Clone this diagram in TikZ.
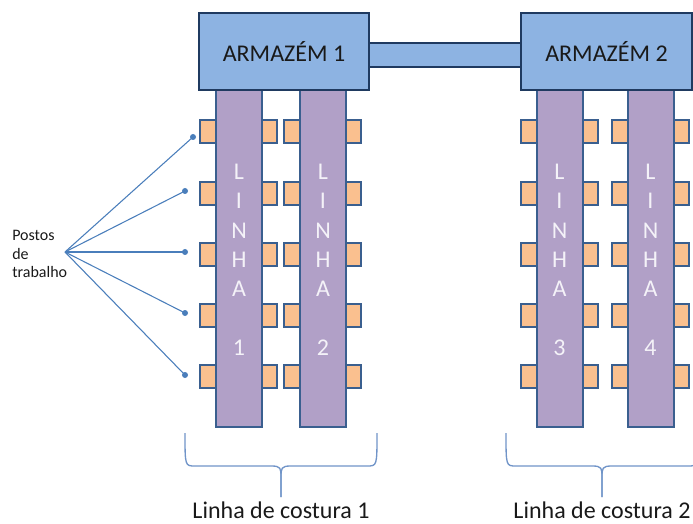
\documentclass[tikz,border=0pt]{standalone}
\usepackage{fontspec}
\setmainfont{Carlito}
\definecolor{armfill}{HTML}{8DB3E2}
\definecolor{armdraw}{HTML}{1F3A60}
\definecolor{linfill}{HTML}{B1A0C7}
\definecolor{boxdraw}{HTML}{3A5F8F}
\definecolor{postfill}{HTML}{FAC08F}
\definecolor{conn}{HTML}{4A7EBB}
\definecolor{bracecol}{HTML}{7094C8}
\definecolor{lettercol}{HTML}{F4F2F8}
\begin{document}
\begin{tikzpicture}[x=0.75pt,y=-0.75pt,
  armazem/.style={draw=armdraw,line width=1.9pt,fill=armfill,minimum width=170*0.75pt,minimum height=77*0.75pt,inner sep=0pt,font=\fontsize{18}{20}\selectfont,text=black!90},
  ponte/.style={draw=armdraw,line width=1.9pt,fill=armfill,minimum width=160*0.75pt,minimum height=24*0.75pt,inner sep=0pt},
  linha/.style={draw=boxdraw,line width=1.5pt,fill=linfill,minimum width=46*0.75pt,minimum height=337*0.75pt,inner sep=0pt},
  posto/.style={draw=boxdraw,line width=1.5pt,fill=postfill,minimum width=22*0.75pt,minimum height=23*0.75pt,inner sep=0pt},
  letra/.style={text=lettercol,font=\fontsize{18}{20}\selectfont,inner sep=0pt},
  ponto/.style={circle,fill=conn,minimum size=6*0.75pt,inner sep=0pt},
  ligacao/.style={draw=conn,line width=0.8pt},
  chave/.style={draw=bracecol,line width=1pt},
  rotulo/.style={font=\fontsize{18}{20}\selectfont,text=black!90,inner sep=0pt}]
\useasboundingbox (0,0) rectangle (693,524);

% bar joining the two warehouses
\node[ponte] (ponte) at (445,55) {};

% work stations on both sides of each line (drawn first, under the lines)
\foreach \cx/\n in {239/1,323/2,559.5/3,650.5/4}{
  \foreach \cy/\r in {131.5/1,193.5/2,254.5/3,315.5/4,376.5/5}{
    \node[posto] (pe\n\r) at (\cx-28,\cy) {};
    \node[posto] (pd\n\r) at (\cx+27,\cy) {};
  }
}

% production lines
\foreach \cx/\n in {239/1,323/2,559.5/3,650.5/4}{
  \node[linha] (linha\n) at (\cx,258.5) {};
  \foreach \l [count=\i from 0] in {L,I,N,H,A}{
    \node[letra] (l\n\i) at (\cx,172+29.25*\i) {\l};
  }
  \node[letra] (num\n) at (\cx,348) {\n};
}

% warehouses
\node[armazem] (arm1) at (284,51.5) {ARMAZÉM 1};
\node[armazem,minimum width=171*0.75pt] (arm2) at (606.5,51.5) {ARMAZÉM 2};

% label for the work stations and its pointers
\node[font=\fontsize{12}{13.9}\selectfont,align=left,anchor=west,inner sep=0pt,text=black!90] (postos) at (12,254) {Postos\\de\\trabalho};
\coordinate (fonte) at (65,252);
\node[ponto] (p1) at (193,137) {};
\node[ponto] (p2) at (185,191) {};
\node[ponto] (p3) at (185,252) {};
\node[ponto] (p4) at (185,313) {};
\node[ponto] (p5) at (185,375) {};
\foreach \r in {1,...,5}{ \draw[ligacao] (fonte) -- (p\r.center); }

% braces grouping the lines
\foreach \xl/\xm/\k in {185/281/1,506/602/2}{
  \coordinate (ca\k) at (\xl,433);
  \coordinate (cb\k) at (\xm,497);
  \coordinate (cc\k) at (2*\xm-\xl,433);
  \draw[chave] (ca\k) .. controls (\xl,466) and (\xl,466) .. (\xl+10,466)
    -- (\xm-10,466) .. controls (\xm,466) and (\xm,468) .. (\xm,478) -- (cb\k);
  \draw[chave] (cc\k) .. controls (2*\xm-\xl,466) and (2*\xm-\xl,466) .. (2*\xm-\xl-10,466)
    -- (\xm+10,466) .. controls (\xm,466) and (\xm,468) .. (\xm,478) -- (cb\k);
}
\node[rotulo,anchor=base] (costura1) at (281,518) {Linha de costura 1};
\node[rotulo,anchor=base] (costura2) at (602,518) {Linha de costura 2};
\end{tikzpicture}
\end{document}
